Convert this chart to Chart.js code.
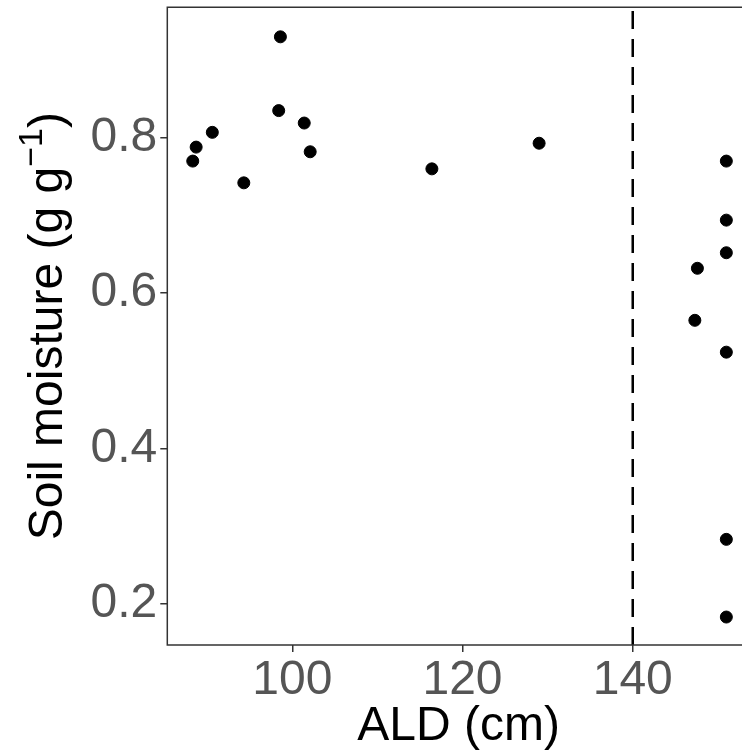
<!DOCTYPE html>
<html lang="en">
<head>
    <meta charset="UTF-8">
    <title>Soil moisture vs ALD</title>
    <script src="https://cdn.jsdelivr.net/npm/chart.js"></script>
    <style>
        html, body { margin: 0; padding: 0; background: #fff; overflow: hidden; }
        canvas { display: block; }
    </style>
</head>
<body>
    <canvas id="chart" width="742" height="751"></canvas>

    <script>
        // Active layer depth (cm) and soil moisture (g g-1)
        const ald = [88.3, 88.7, 90.6, 94.3, 98.6, 98.4, 101.4, 102.1, 116.4, 129.0,
                     147.6, 147.3, 151.0, 151.0, 151.0, 151.0, 151.0, 151.0];
        const moisture = [0.770, 0.788, 0.807, 0.742, 0.930, 0.835, 0.819, 0.782, 0.760, 0.793,
                          0.632, 0.565, 0.770, 0.694, 0.652, 0.524, 0.283, 0.183];
        const thresholdAld = 140;

        const xTicks = [100, 120, 140];
        const yTicks = [0.2, 0.4, 0.6, 0.8];
        // the panel runs a bit past the right edge of the picture
        const xRange = [85.31, 152.84];
        const xPanelMax = 153.78;
        const yRange = [0.147, 0.968];

        const tickFont = { family: 'Liberation Sans, Arial, sans-serif', size: 48 };
        const tickColor = '#555555';
        const axisColor = '#333333';

        // no extra room for edge labels, the panel box is fixed
        function noPad(s) {
            s.paddingTop = 0; s.paddingBottom = 0; s.paddingLeft = 0; s.paddingRight = 0;
        }

        // Axis titles + panel border (right side is cropped off)
        const decorations = {
            id: 'decorations',
            afterDatasetsDraw(chart) {
                const ctx = chart.ctx;
                const a = chart.chartArea;
                const xs = chart.scales.x;
                ctx.save();
                ctx.strokeStyle = axisColor;
                ctx.lineWidth = 1.5;
                ctx.beginPath();
                ctx.moveTo(a.right + 2, a.top);
                ctx.lineTo(a.left, a.top);
                ctx.lineTo(a.left, a.bottom);
                ctx.lineTo(a.right + 2, a.bottom);
                ctx.stroke();

                ctx.fillStyle = '#000';
                ctx.font = '48px Liberation Sans, Arial, sans-serif';
                ctx.textAlign = 'center';
                ctx.textBaseline = 'alphabetic';
                const midX = (a.left + xs.getPixelForValue(xPanelMax)) / 2;
                ctx.fillText('ALD (cm)', midX, 740);

                // y title with superscript
                const big = '48px Liberation Sans, Arial, sans-serif';
                const small = '34px Liberation Sans, Arial, sans-serif';
                const p1 = 'Soil moisture (g g', sup = '\u22121', p2 = ')';
                ctx.font = big;
                const w1 = ctx.measureText(p1).width, w3 = ctx.measureText(p2).width;
                ctx.font = small;
                const w2 = ctx.measureText(sup).width;
                const total = w1 + w2 + w3;
                ctx.translate(62, (a.top + a.bottom) / 2);
                ctx.rotate(-Math.PI / 2);
                ctx.textAlign = 'left';
                let x = -total / 2;
                ctx.font = big;
                ctx.fillText(p1, x, 0);
                x += w1;
                ctx.font = small;
                ctx.fillText(sup, x, -20);
                x += w2;
                ctx.font = big;
                ctx.fillText(p2, x, 0);
                ctx.restore();
            }
        };

        const ctx = document.getElementById('chart').getContext('2d');
        const chart = new Chart(ctx, {
            type: 'scatter',
            data: {
                datasets: [
                    {
                        label: 'threshold',
                        type: 'line',
                        data: [{ x: thresholdAld, y: yRange[0] }, { x: thresholdAld, y: yRange[1] }],
                        borderColor: '#000',
                        borderWidth: 2.5,
                        borderDash: [18, 10],
                        borderDashOffset: 0,
                        pointRadius: 0,
                        fill: false
                    },
                    {
                        label: 'Soil moisture',
                        data: ald.map((v, i) => ({ x: v, y: moisture[i] })),
                        backgroundColor: '#000',
                        borderColor: '#000',
                        pointRadius: 6,
                        pointHoverRadius: 6
                    }
                ]
            },
            options: {
                responsive: false,
                animation: false,
                events: [],
                layout: { autoPadding: false, padding: { left: 0, top: 7.3, right: 0, bottom: 0 } },
                plugins: {
                    legend: { display: false },
                    tooltip: { enabled: false }
                },
                scales: {
                    x: {
                        type: 'linear',
                        min: xRange[0],
                        max: xRange[1],
                        afterBuildTicks: s => { s.ticks = xTicks.map(v => ({ value: v })); },
                        afterFit: s => { s.height = 751 - 645; noPad(s); },
                        grid: { drawOnChartArea: false, drawTicks: true, tickLength: 7, color: axisColor, lineWidth: 1.5 },
                        border: { display: false },
                        ticks: { font: tickFont, color: tickColor, padding: 0, maxRotation: 0,
                                 callback: v => String(v) }
                    },
                    y: {
                        type: 'linear',
                        min: yRange[0],
                        max: yRange[1],
                        afterBuildTicks: s => { s.ticks = yTicks.map(v => ({ value: v })); },
                        afterFit: s => { s.width = 167.3; noPad(s); },
                        grid: { drawOnChartArea: false, drawTicks: true, tickLength: 7, color: axisColor, lineWidth: 1.5 },
                        border: { display: false },
                        ticks: { font: tickFont, color: tickColor, padding: 3,
                                 callback: v => v.toFixed(1) }
                    }
                }
            },
            plugins: [decorations]
        });
    </script>
</body>
</html>
